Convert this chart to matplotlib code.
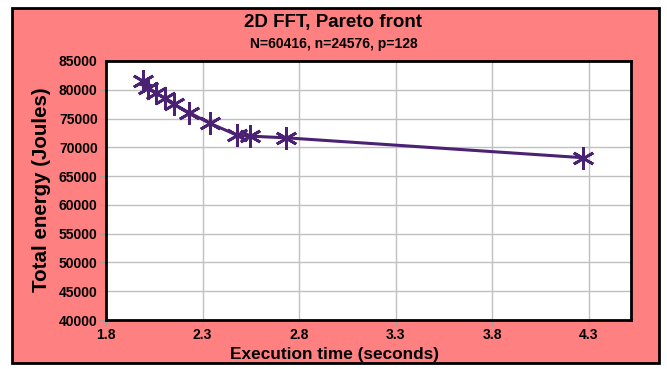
import matplotlib
matplotlib.use("Agg")
import matplotlib.pyplot as plt
from matplotlib.patches import Rectangle

# execution time (s) and total energy (J) along the Pareto front
exec_time = [1.99, 2.02, 2.06, 2.105, 2.15, 2.23, 2.34, 2.48, 2.545, 2.735, 4.27]
energy = [81500, 80300, 79400, 78500, 77450, 76050, 74150, 72100, 71950, 71650, 68200]

x_ticks = [1.8, 2.3, 2.8, 3.3, 3.8, 4.3]
y_ticks = list(range(40000, 85001, 5000))

plt.rcParams['font.family'] = ['Liberation Sans', 'DejaVu Sans']
plt.rcParams['font.weight'] = 'bold'

fig = plt.figure(figsize=(6.67, 3.69), dpi=100)
fig.patch.set_facecolor('white')
bg = Rectangle((12/667, 1-363/369), 647/667, 355/369, transform=fig.transFigure,
               facecolor='#ff8080', edgecolor='black', linewidth=2, zorder=-1)
fig.patches.append(bg)

ax = fig.add_axes([106/667, 1-320/369, 525/667, 259/369])
ax.set_facecolor('white')
ax.plot(exec_time, energy, color='#4b2173', linewidth=2.2,
        marker=(6, 2, 0), markersize=16, markeredgewidth=2, zorder=3)

ax.set_xlim(1.8, 4.52)
ax.set_ylim(40000, 85000)
ax.set_xticks(x_ticks)
ax.set_xticklabels([f'{v:.1f}' for v in x_ticks])
ax.set_yticks(y_ticks)
ax.grid(True, color='#c0c0c0', linewidth=1)
ax.tick_params(colors='black', labelsize=10, length=4, pad=2)
ax.tick_params(axis='both', color='#a0a0a0')
for s in ax.spines.values():
    s.set_linewidth(2)
    s.set_color('black')

fig.text(335/667, 1-355/369, 'Execution time (seconds)', ha='center', va='center',
         fontsize=12.4, fontweight='bold')
fig.text(42/667, 1-190/369, 'Total energy (Joules)', ha='center', va='center',
         rotation=90, fontsize=14.8, fontweight='bold')

fig.text(0.5, 1-23/369, '2D FFT, Pareto front', ha='center', va='center',
         fontsize=13.5, fontweight='bold')
fig.text(0.5, 1-44/369, 'N=60416, n=24576, p=128', ha='center', va='center',
         fontsize=10, fontweight='bold')

fig.savefig('out.png', dpi=100)
